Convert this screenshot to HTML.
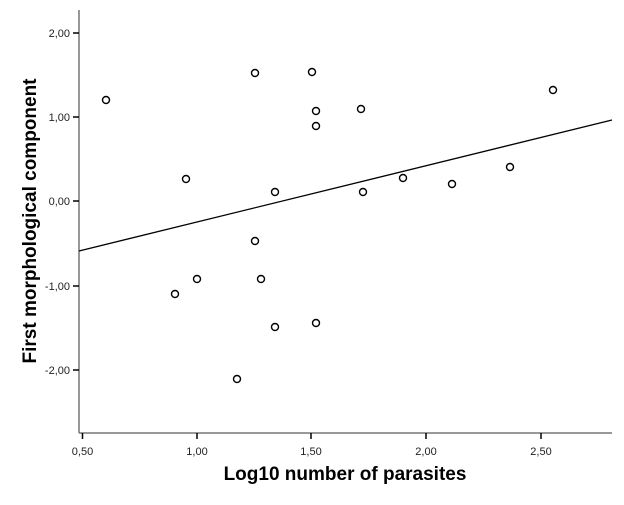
<!DOCTYPE html><html><head><style>body{margin:0;background:#fff}</style></head><body>
<svg width="624" height="500" xmlns="http://www.w3.org/2000/svg" font-family="Liberation Sans, sans-serif">
<rect width="624" height="500" fill="#fff"/>
<g stroke="#777" stroke-width="1.5" fill="none">
<line x1="79" y1="10" x2="79" y2="433"/>
<line x1="79" y1="433" x2="612" y2="433"/>
</g>
<g stroke="#000" stroke-width="1.5">
<line x1="73" y1="33" x2="79" y2="33"/><line x1="73" y1="117" x2="79" y2="117"/><line x1="73" y1="201" x2="79" y2="201"/><line x1="73" y1="286" x2="79" y2="286"/><line x1="73" y1="370" x2="79" y2="370"/>
<line x1="82.5" y1="433" x2="82.5" y2="439"/><line x1="197" y1="433" x2="197" y2="439"/><line x1="311" y1="433" x2="311" y2="439"/><line x1="426" y1="433" x2="426" y2="439"/><line x1="541" y1="433" x2="541" y2="439"/>
</g>
<g font-size="11" text-anchor="end" fill="#222">
<text x="70" y="37">2,00</text><text x="70" y="121">1,00</text><text x="70" y="205">0,00</text><text x="70" y="290">-1,00</text><text x="70" y="374">-2,00</text>
</g>
<g font-size="11" text-anchor="middle" fill="#222">
<text x="82.5" y="455">0,50</text><text x="197" y="455">1,00</text><text x="311" y="455">1,50</text><text x="426" y="455">2,00</text><text x="541" y="455">2,50</text>
</g>
<text x="345" y="480" font-size="19" font-weight="bold" text-anchor="middle">Log10 number of parasites</text>
<text transform="translate(36,221) rotate(-90)" font-size="19" font-weight="bold" text-anchor="middle">First morphological component</text>
<line x1="79" y1="251" x2="612" y2="120" stroke="#000" stroke-width="1.3"/>
<g fill="none" stroke="#000" stroke-width="1.4">
<circle cx="106" cy="100" r="3.5"/><circle cx="186" cy="179" r="3.5"/><circle cx="175" cy="294" r="3.5"/><circle cx="197" cy="279" r="3.5"/><circle cx="255" cy="73" r="3.5"/><circle cx="255" cy="241" r="3.5"/><circle cx="261" cy="279" r="3.5"/><circle cx="275" cy="192" r="3.5"/><circle cx="275" cy="327" r="3.5"/><circle cx="237" cy="379" r="3.5"/><circle cx="312" cy="72" r="3.5"/><circle cx="316" cy="111" r="3.5"/><circle cx="316" cy="126" r="3.5"/><circle cx="316" cy="323" r="3.5"/><circle cx="361" cy="109" r="3.5"/><circle cx="363" cy="192" r="3.5"/><circle cx="403" cy="178" r="3.5"/><circle cx="452" cy="184" r="3.5"/><circle cx="510" cy="167" r="3.5"/><circle cx="553" cy="90" r="3.5"/>
</g>
</svg>
</body></html>
